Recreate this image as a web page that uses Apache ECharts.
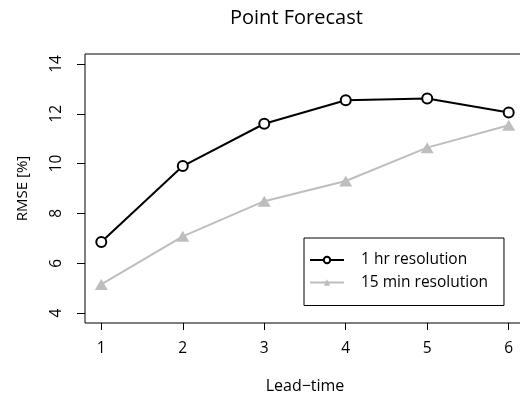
<!DOCTYPE html>
<html><head><meta charset="utf-8">
<script src="https://cdn.jsdelivr.net/npm/echarts@6/dist/echarts.min.js"></script>
<style>html,body{margin:0;padding:0;background:#fff}#c{width:520px;height:401px}</style>
</head><body><div id="c"></div>
<script>
const leadTimes = [1, 2, 3, 4, 5, 6];
const hr1 = [6.85, 9.9, 11.6, 12.54, 12.61, 12.05];
const min15 = [5.15, 7.08, 8.49, 9.3, 10.64, 11.54];
const xTicks = [1, 2, 3, 4, 5, 6];
const yTicks = [4, 6, 8, 10, 12, 14];
const FONT = 'Open Sans';

const chart = echarts.init(document.getElementById('c'), null, {renderer: 'canvas'});
chart.setOption({
  animation: false,
  backgroundColor: '#fff',
  textStyle: {fontFamily: FONT},
  title: {
    text: 'Point Forecast', left: 225, top: 3,
    textStyle: {fontFamily: FONT, fontSize: 20, fontWeight: 'normal', color: '#000'}
  },
  grid: {left: 85, top: 54, width: 440, height: 269, show: true, borderColor: '#000', borderWidth: 1,
         backgroundColor: 'transparent', containLabel: false, outerBoundsMode: 'none'},
  xAxis: {
    type: 'value', min: 0.8, max: 6.2,
    name: 'Lead\u2212time', nameLocation: 'middle', nameGap: 55,
    nameTextStyle: {fontFamily: FONT, fontSize: 16, color: '#000'},
    axisLine: {show: false},
    axisTick: {show: true, inside: false, length: 7, lineStyle: {color: '#000'}, customValues: xTicks},
    axisLabel: {customValues: xTicks, fontFamily: FONT, fontSize: 15.5, color: '#000', margin: 18},
    splitLine: {show: false}
  },
  yAxis: {
    type: 'value', min: 3.6, max: 14.4,
    name: 'RMSE [%]', nameLocation: 'middle', nameGap: 55, nameRotate: 90,
    nameTextStyle: {fontFamily: FONT, fontSize: 15, color: '#000'},
    axisLine: {show: false},
    axisTick: {show: true, inside: false, length: 8, lineStyle: {color: '#000'}, customValues: yTicks},
    axisLabel: {customValues: yTicks, rotate: 90, fontFamily: FONT, fontSize: 15.5, color: '#000', margin: 20},
    splitLine: {show: false}
  },
  legend: {
    orient: 'vertical', left: 304, top: 238,
    padding: [14, 16, 15, 5],
    itemWidth: 34, itemHeight: 8, itemGap: 6.5,
    borderColor: '#000', borderWidth: 1, borderRadius: 0,
    textStyle: {fontFamily: FONT, fontSize: 15.5, color: '#000', padding: [0, 0, 0, 12]},
    data: ['1 hr resolution', '15 min resolution']
  },
  series: [
    {
      name: '1 hr resolution', type: 'line',
      data: leadTimes.map((x, i) => [x, hr1[i]]),
      symbol: 'emptyCircle', symbolSize: 10,
      lineStyle: {color: '#000', width: 2},
      itemStyle: {color: '#000', borderColor: '#000', borderWidth: 2},
      z: 3
    },
    {
      name: '15 min resolution', type: 'line',
      data: leadTimes.map((x, i) => [x, min15[i]]),
      symbol: 'triangle', symbolSize: [13, 11],
      lineStyle: {color: '#BEBEBE', width: 2},
      itemStyle: {color: '#BEBEBE'},
      z: 2
    }
  ]
});
</script></body></html>
